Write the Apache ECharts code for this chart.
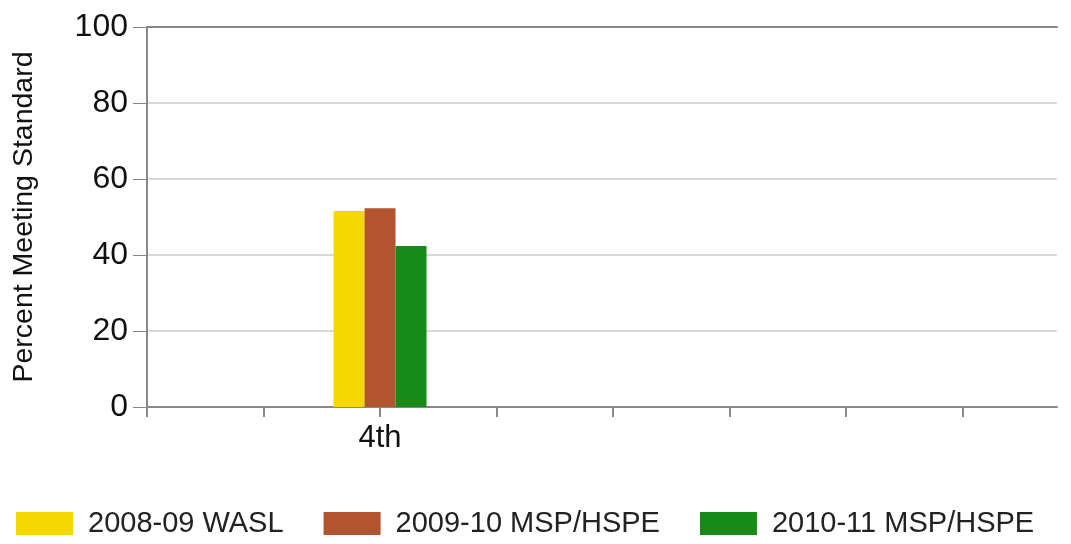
<!DOCTYPE html>
<html>
<head>
<meta charset="utf-8">
<script src="https://cdn.jsdelivr.net/npm/echarts@6/dist/echarts.min.js"></script>
<style>
  html, body { margin: 0; padding: 0; background: #fff; }
  #chart { width: 1071px; height: 544px; }
</style>
</head>
<body>
<div id="chart"></div>
<script>
// grade slots along the x axis, only 4th grade has scores
const grades = ["", "", "4th", "", "", "", "", ""]
const wasl0809 = [null, null, 51.6, null, null, null, null, null]
const msp0910 = [null, null, 52.3, null, null, null, null, null]
const msp1011 = [null, null, 42.4, null, null, null, null, null]
const yTicks = [0, 20, 40, 60, 80, 100]

const seriesNames = ["2008-09 WASL", "2009-10 MSP/HSPE", "2010-11 MSP/HSPE"]
const colors = ["#F5D800", "#B35430", "#188A18"]

const toPoints = (arr) => arr.map((v, i) => [i, v]).filter((p) => p[1] !== null)

const font = "Liberation Sans, Arial, sans-serif"
const xMax = 7.81

const chart = echarts.init(document.getElementById("chart"))

const option = {
  animation: false,
  textStyle: { fontFamily: font },
  color: colors,
  grid: { left: 147, right: 14, top: 27, bottom: 137 },
  legend: {
    left: 11,
    top: 504,
    itemWidth: 57,
    itemHeight: 23,
    itemGap: 40,
    icon: "rect",
    data: seriesNames,
    textStyle: { fontSize: 29, color: "#222", fontFamily: font, padding: [0, 0, 0, 10] }
  },
  xAxis: [
    {
      type: "value",
      min: 0,
      max: xMax,
      interval: 1,
      axisLine: { lineStyle: { color: "#888", width: 2 } },
      axisTick: { show: true, length: 10, lineStyle: { color: "#888", width: 2 } },
      splitLine: { show: false },
      axisLabel: {
        margin: 16,
        fontSize: 31,
        color: "#111",
        showMaxLabel: false,
        formatter: (v) => grades[Math.round(v)] || ""
      }
    },
    {
      type: "value",
      position: "top",
      min: 0,
      max: xMax,
      axisLine: { show: true, lineStyle: { color: "#888", width: 2 } },
      axisTick: { show: false },
      axisLabel: { show: false },
      splitLine: { show: false }
    }
  ],
  yAxis: {
    type: "value",
    min: yTicks[0],
    max: yTicks[yTicks.length - 1],
    interval: 20,
    name: "Percent Meeting Standard",
    nameLocation: "middle",
    nameRotate: 90,
    nameGap: 108,
    nameTextStyle: { fontSize: 28.5, color: "#111" },
    axisLine: { show: true, lineStyle: { color: "#888", width: 2 } },
    axisTick: { show: true, length: 14, lineStyle: { color: "#888", width: 1 } },
    splitLine: { show: true, lineStyle: { color: "#d9d9d9", width: 2 } },
    axisLabel: { margin: 19, fontSize: 32, color: "#111" }
  },
  series: [
    { name: seriesNames[0], type: "bar", barWidth: 31, barGap: "0%", data: toPoints(wasl0809) },
    { name: seriesNames[1], type: "bar", barWidth: 31, barGap: "0%", data: toPoints(msp0910) },
    { name: seriesNames[2], type: "bar", barWidth: 31, barGap: "0%", data: toPoints(msp1011) }
  ]
}

chart.setOption(option)
</script>
</body>
</html>
